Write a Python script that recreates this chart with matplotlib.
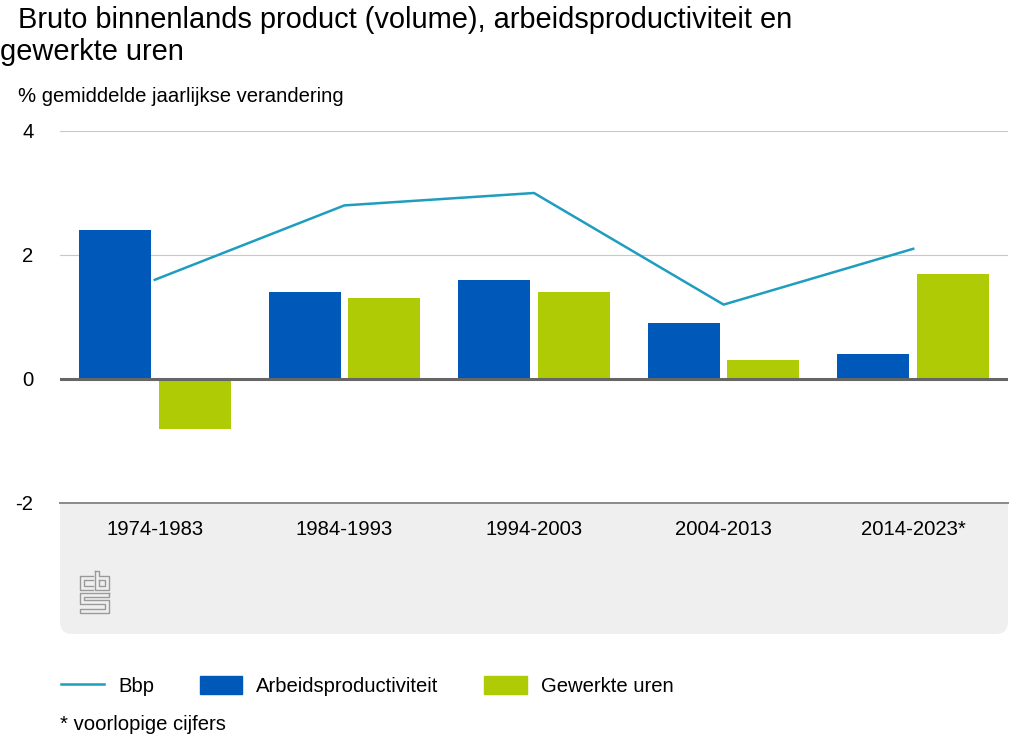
import numpy as np
import matplotlib.pyplot as plt
from matplotlib.patches import FancyBboxPatch, Rectangle, Patch
from matplotlib.lines import Line2D

plt.rcParams['font.family'] = ['Liberation Sans', 'DejaVu Sans']

periodes = ['1974-1983', '1984-1993', '1994-2003', '2004-2013', '2014-2023*']
bbp = [1.6, 2.8, 3.0, 1.2, 2.1]
arbeidsproductiviteit = [2.4, 1.4, 1.6, 0.9, 0.4]
gewerkte_uren = [-0.8, 1.3, 1.4, 0.3, 1.7]

BLAUW = '#0058b8'
GROEN = '#afcb05'
LIJN = '#1f9dbf'
FS = 14.6

W, H = 1024, 741
fig = plt.figure(figsize=(W / 100, H / 100), dpi=100)

def fx(px):
    return px / W

def fy(py):
    return 1 - py / H

# grijs paneel onder de grafiek
paneel = FancyBboxPatch((fx(60), fy(634)), fx(1008) - fx(60), fy(503) - fy(634),
                        boxstyle='round,pad=0,rounding_size=0.012',
                        transform=fig.transFigure, facecolor='#efefef',
                        edgecolor='none', zorder=-2, mutation_aspect=W / H)
fig.patches.append(paneel)
fig.patches.append(Rectangle((fx(60), fy(560)), fx(1008) - fx(60), fy(503) - fy(560),
                             transform=fig.transFigure, facecolor='#efefef',
                             edgecolor='none', zorder=-2))

ax = fig.add_axes([fx(60), fy(503), fx(1008) - fx(60), fy(131) - fy(503)])
ax.set_facecolor('none')
ax.set_zorder(1)

x = np.arange(len(periodes))
ax.bar(x - 0.21, arbeidsproductiviteit, width=0.38, color=BLAUW, zorder=3)
ax.bar(x + 0.21, gewerkte_uren, width=0.38, color=GROEN, zorder=3)
ax.plot(x, bbp, color=LIJN, linewidth=1.8, zorder=4)

ax.set_xlim(-0.5, len(periodes) - 0.5)
ax.set_ylim(-2, 4)
ax.set_yticks([-2, 0, 2, 4])
ax.set_yticklabels(['-2', '0', '2', '4'], fontsize=FS)
ax.set_xticks(x)
ax.set_xticklabels(periodes, fontsize=FS)
ax.tick_params(axis='both', length=0)
ax.tick_params(axis='y', pad=19)
ax.tick_params(axis='x', pad=12)
for s in ax.spines.values():
    s.set_visible(False)
for yv in [2, 4]:
    ax.axhline(yv, color='#c8c8c8', linewidth=0.8, zorder=1)
ax.axhline(-2, color='#8a8a8a', linewidth=1.4, zorder=1, clip_on=False)
ax.axhline(0, color='#666666', linewidth=2.2, zorder=5)

# cbs-logo (vereenvoudigd)
logo = [
    [(93, 576), (80, 576), (80, 590), (93, 590)],
    [(93, 580), (84, 580), (84, 586), (93, 586)],
    [(95, 571), (95, 590), (109, 590), (109, 576), (99, 576), (99, 571), (95, 571)],
    [(99, 580), (105, 580), (105, 586), (99, 586), (99, 580)],
    [(109, 593), (80, 593), (80, 604), (105, 604), (105, 609), (80, 609), (80, 613),
     (109, 613), (109, 600), (84, 600), (84, 597), (109, 597), (109, 593)],
]
for pts in logo:
    xs = [fx(p[0]) for p in pts]
    ys = [fy(p[1]) for p in pts]
    fig.add_artist(Line2D(xs, ys, transform=fig.transFigure, color='#9a9a9a', linewidth=1.0))

fig.text(fx(18), fy(20), 'Bruto binnenlands product (volume), arbeidsproductiviteit en',
         fontsize=20.9, va='center', ha='left')
fig.text(fx(0), fy(52), 'gewerkte uren', fontsize=20.9, va='center', ha='left')
fig.text(fx(18), fy(96), '% gemiddelde jaarlijkse verandering', fontsize=FS, va='center', ha='left')

handles = [Line2D([], [], color=LIJN, linewidth=1.8),
           Patch(color=BLAUW), Patch(color=GROEN)]
fig.legend(handles, ['Bbp', 'Arbeidsproductiviteit', 'Gewerkte uren'],
           loc='center left', bbox_to_anchor=(fx(43), fy(686)), ncol=3, frameon=False,
           fontsize=FS, handlelength=2.1, handleheight=1.0, handletextpad=0.7,
           columnspacing=2.25)
fig.text(fx(60), fy(725), '* voorlopige cijfers', fontsize=FS, va='center', ha='left')

fig.savefig('out.png', dpi=100)
